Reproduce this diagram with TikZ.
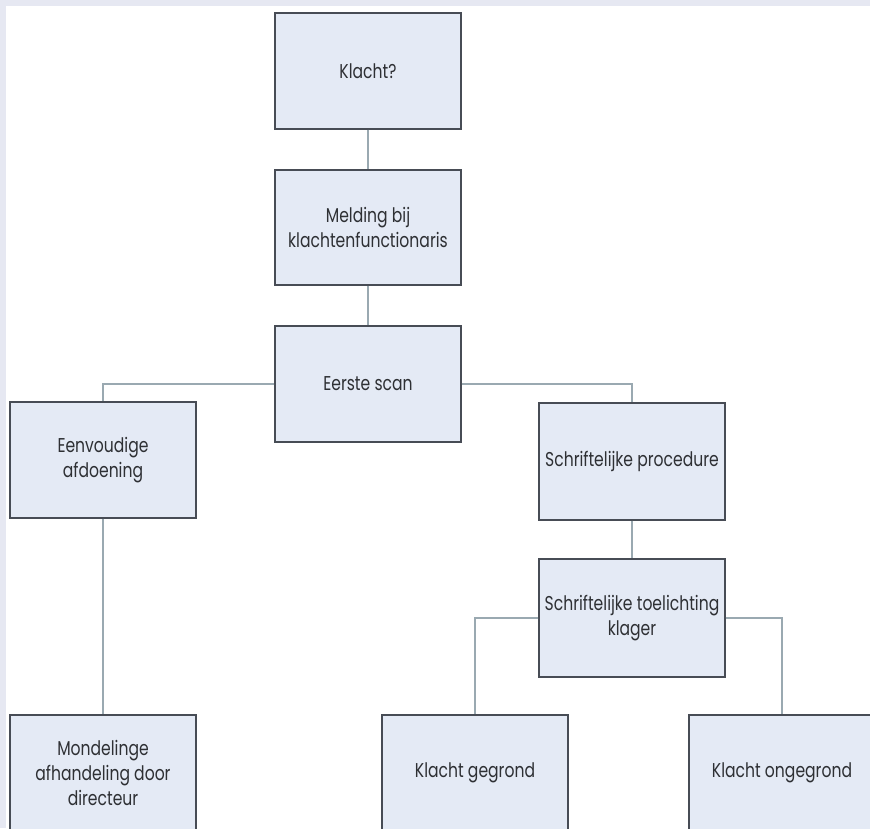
\documentclass[tikz,border=0pt]{standalone}
\usepackage{fontspec}
\setmainfont[FakeStretch=0.78]{Poppins}
\definecolor{framebg}{HTML}{E6E8F2}
\definecolor{boxfill}{HTML}{E4EAF5}
\definecolor{boxline}{HTML}{474C55}
\definecolor{linkcol}{HTML}{9AA9B1}
\definecolor{txtcol}{HTML}{2E3034}
\tikzset{
  stepbox/.style={draw=boxline, line width=1.1pt, fill=boxfill, minimum width=186pt,
    minimum height=116pt, inner sep=0pt, align=center, text=txtcol,
    font=\fontsize{20}{25}\selectfont},
  link/.style={draw=linkcol, line width=1.2pt}
}
\begin{document}
\begin{tikzpicture}[x=1pt,y=-1pt]
\useasboundingbox (0,0) rectangle (870,828);
\clip (0,0) rectangle (870,828);
\fill[framebg] (0,0) rectangle (870,828);
\fill[white] (6,6) rectangle (870,828);
\node[stepbox] (klacht) at (368,71) {Klacht?};
\node[stepbox, minimum height=115pt] (melding) at (368,227.5) {Melding bij\\klachtenfunctionaris};
\node[stepbox] (scan) at (368,384) {Eerste scan};
\node[stepbox] (eenv) at (103,460) {Eenvoudige\\afdoening};
\node[stepbox, minimum height=117pt] (schrift) at (632,461.5) {Schriftelijke procedure};
\node[stepbox, minimum height=118pt] (toel) at (632,618) {Schriftelijke toelichting\\klager};
\node[stepbox] (mond) at (103,773) {Mondelinge\\afhandeling door\\directeur};
\node[stepbox] (gegrond) at (475,773) {Klacht gegrond};
\node[stepbox] (ongegrond) at (782,773) {Klacht ongegrond};
\draw[link] (klacht.south) -- (melding.north);
\draw[link] (melding.south) -- (scan.north);
\draw[link] (scan.west) -| (eenv.north);
\draw[link] (scan.east) -| (schrift.north);
\draw[link] (schrift.south) -- (toel.north);
\draw[link] (toel.west) -| (gegrond.north);
\draw[link] (toel.east) -| (ongegrond.north);
\draw[link] (eenv.south) -- (mond.north);
\end{tikzpicture}
\end{document}
